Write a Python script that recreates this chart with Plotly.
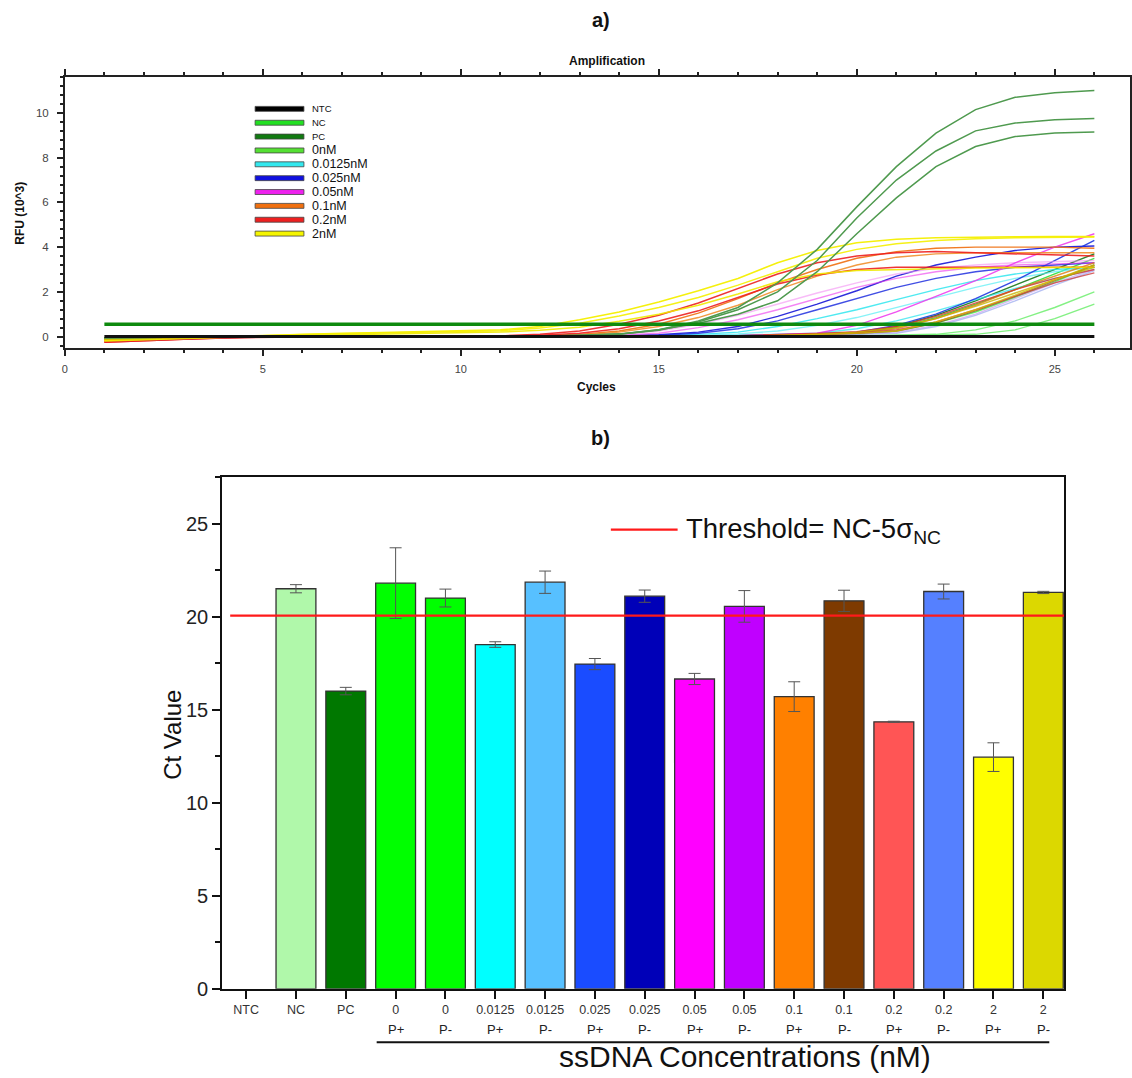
import plotly.graph_objects as go

W, H = 1132, 1078
def px(x): return x / W
def py(y): return 1 - y / H

FONT = "Liberation Sans, Arial, sans-serif"

# ---------------- Panel a) amplification data ----------------
cycles = list(range(1, 27))

rfu_ntc = [0.0, 0.0, 0.0, 0.0, 0.0, 0.0, 0.0, 0.0, 0.0, 0.0, 0.0, 0.0, 0.0, 0.0, 0.0, 0.0, 0.0, 0.0, 0.0, 0.0, 0.0, 0.0, 0.0, 0.0, 0.0, 0.0]
rfu_baseline_line = [0.55, 0.55]
baseline_cycles = [1, 26]

rfu_pc1 = [-0.05,-0.03,-0.01,0,0,0,0,0,0,0,0.01,0.03,0.06,0.12,0.3,0.7,1.3,2.4,3.9,5.8,7.6,9.1,10.15,10.7,10.9,11.0]
rfu_pc2 = [-0.05,-0.03,-0.01,0,0,0,0,0,0,0,0.01,0.03,0.05,0.1,0.28,0.65,1.2,2.0,3.4,5.3,7.0,8.3,9.2,9.55,9.7,9.75]
rfu_pc3 = [-0.05,-0.03,-0.01,0,0,0,0,0,0,0,0.01,0.02,0.05,0.1,0.3,0.6,1.0,1.6,2.9,4.6,6.2,7.6,8.5,8.95,9.1,9.15]

rfu_nc1 = [-0.05,-0.03,-0.01,0,0,0,0,0,0,0,0,0,0,0,0,0,0,0.01,0.02,0.04,0.06,0.1,0.3,0.7,1.3,2.0]
rfu_nc2 = [-0.05,-0.03,-0.01,0,0,0,0,0,0,0,0,0,0,0,0,0,0,0,0.01,0.02,0.04,0.06,0.1,0.3,0.8,1.45]

rfu_0nM_a = [-0.08,-0.05,-0.02,0,0,0,0,0,0,0,0,0,0,0,0,0.01,0.02,0.04,0.08,0.15,0.4,0.85,1.45,2.1,2.8,3.5]
rfu_0nM_b = [-0.08,-0.05,-0.02,0,0,0,0,0,0,0,0,0,0,0,0,0,0.01,0.03,0.06,0.1,0.25,0.6,1.1,1.75,2.45,3.2]
rfu_0nM_c = [-0.05,-0.03,-0.01,0,0,0,0,0,0,0,0,0,0,0,0,0.01,0.02,0.04,0.08,0.15,0.45,0.95,1.6,2.3,3.0,3.7]

rfu_00125_a = [-0.1,-0.06,-0.03,-0.01,0,0,0,0,0,0,0,0,0,0.01,0.04,0.1,0.2,0.45,0.8,1.2,1.65,2.1,2.5,2.8,3.0,3.1]
rfu_00125_b = [-0.1,-0.06,-0.03,-0.01,0,0,0,0,0,0,0,0,0,0.01,0.03,0.06,0.12,0.25,0.5,0.85,1.3,1.75,2.2,2.6,2.9,3.1]
rfu_00125_c = [-0.1,-0.06,-0.03,-0.01,0,0,0,0,0,0,0,0,0,0,0.01,0.03,0.06,0.1,0.15,0.35,0.7,1.15,1.65,2.15,2.6,3.0]

rfu_0025_a = [-0.1,-0.06,-0.03,-0.01,0,0,0,0,0,0,0,0,0.01,0.03,0.08,0.2,0.45,0.9,1.45,2.05,2.7,3.2,3.55,3.85,4.0,4.05]
rfu_0025_b = [-0.1,-0.06,-0.03,-0.01,0,0,0,0,0,0,0,0,0.01,0.02,0.06,0.15,0.35,0.7,1.2,1.7,2.2,2.6,2.9,3.1,3.2,3.3]
rfu_0025_c = [-0.1,-0.06,-0.03,-0.01,0,0,0,0,0,0,0,0,0,0,0.01,0.02,0.04,0.08,0.12,0.2,0.5,1.0,1.7,2.5,3.4,4.3]
rfu_0025_d = [-0.1,-0.06,-0.03,-0.01,0,0,0,0,0,0,0,0,0,0,0,0,0.01,0.03,0.06,0.1,0.15,0.45,0.95,1.6,2.3,2.95]

rfu_005_a = [-0.1,-0.06,-0.03,-0.01,0,0,0,0,0,0,0,0.01,0.03,0.06,0.15,0.4,0.75,1.2,1.7,2.2,2.6,2.9,3.1,3.2,3.25,3.3]
rfu_005_b = [-0.1,-0.06,-0.03,-0.01,0,0,0,0,0,0,0,0.01,0.04,0.1,0.25,0.55,0.95,1.45,1.95,2.4,2.8,3.05,3.2,3.3,3.35,3.4]
rfu_005_c = [-0.1,-0.06,-0.03,-0.01,0,0,0,0,0,0,0,0,0,0,0.01,0.02,0.04,0.08,0.15,0.5,1.1,1.8,2.5,3.3,4.0,4.6]
rfu_005_d = [-0.1,-0.06,-0.03,-0.01,0,0,0,0,0,0,0,0,0,0,0,0.01,0.02,0.04,0.08,0.12,0.2,0.5,1.0,1.7,2.4,3.0]

rfu_01_a = [-0.15,-0.1,-0.05,-0.02,0,0,0,0,0,0,0.01,0.03,0.1,0.25,0.55,1.05,1.7,2.4,3.0,3.5,3.8,3.95,4.0,4.0,4.0,3.95]
rfu_01_b = [-0.15,-0.1,-0.05,-0.02,0,0,0,0,0,0,0.01,0.02,0.06,0.2,0.45,0.85,1.4,2.1,2.7,3.2,3.55,3.7,3.75,3.75,3.75,3.75]
rfu_01_c = [-0.12,-0.08,-0.04,-0.02,0,0,0,0,0,0,0,0,0,0,0,0.01,0.03,0.06,0.1,0.18,0.35,0.8,1.4,2.1,2.7,3.3]
rfu_01_d = [-0.1,-0.06,-0.03,-0.01,0,0,0,0,0,0,0,0,0,0,0,0.01,0.02,0.05,0.1,0.15,0.25,0.6,1.15,1.8,2.5,3.2]

rfu_02_a = [-0.25,-0.18,-0.1,-0.05,-0.02,0,0,0,0,0,0.03,0.1,0.25,0.55,0.95,1.5,2.15,2.8,3.3,3.6,3.75,3.8,3.75,3.7,3.65,3.6]
rfu_02_b = [-0.25,-0.2,-0.12,-0.06,-0.03,-0.01,0,0,0,0,0.02,0.06,0.15,0.35,0.7,1.15,1.75,2.35,2.75,3.0,3.1,3.1,3.1,3.1,3.1,3.1]
rfu_02_c = [-0.22,-0.16,-0.1,-0.05,-0.02,0,0,0,0,0,0,0,0,0,0,0.02,0.04,0.08,0.14,0.22,0.45,0.9,1.5,2.1,2.6,3.0]
rfu_02_d = [-0.2,-0.15,-0.09,-0.05,-0.02,0,0,0,0,0,0,0,0,0,0,0.01,0.02,0.05,0.1,0.16,0.3,0.65,1.2,1.8,2.4,2.85]

rfu_2_a = [-0.15,-0.1,-0.04,0.03,0.08,0.12,0.15,0.18,0.21,0.25,0.3,0.45,0.75,1.1,1.55,2.05,2.6,3.3,3.85,4.2,4.35,4.42,4.45,4.46,4.47,4.48]
rfu_2_b = [-0.18,-0.12,-0.06,0.0,0.05,0.09,0.12,0.15,0.18,0.21,0.26,0.38,0.6,0.92,1.3,1.75,2.3,2.9,3.5,3.9,4.15,4.3,4.38,4.42,4.45,4.45]
rfu_2_c = [-0.2,-0.14,-0.08,-0.02,0.02,0.05,0.08,0.1,0.13,0.16,0.2,0.28,0.42,0.68,1.0,1.4,1.9,2.45,2.8,2.95,3.0,3.05,3.07,3.08,3.1,3.1]
rfu_2_d = [-0.12,-0.08,-0.04,-0.02,0,0,0,0,0,0,0,0,0,0,0,0.01,0.02,0.05,0.1,0.2,0.4,0.8,1.35,1.95,2.55,3.1]
rfu_2_e = [-0.1,-0.06,-0.03,-0.01,0,0,0,0,0,0,0,0,0,0,0,0.01,0.02,0.05,0.1,0.15,0.25,0.65,1.2,1.85,2.55,3.2]

legend_names = ["NTC", "NC", "PC", "0nM", "0.0125nM", "0.025nM", "0.05nM", "0.1nM", "0.2nM", "2nM"]
legend_colors = ["#000000", "#22e022", "#117a11", "#55e033", "#33e8ee", "#1010e0", "#ee22ee", "#f07010", "#ee2020", "#f5f500"]

# ---------------- Panel b) Ct values ----------------
ct_labels = ["NTC", "NC", "PC", "0", "0", "0.0125", "0.0125", "0.025", "0.025",
             "0.05", "0.05", "0.1", "0.1", "0.2", "0.2", "2", "2"]
ct_probe = ["", "", "", "P+", "P-", "P+", "P-", "P+", "P-", "P+", "P-", "P+", "P-", "P+", "P-", "P+", "P-"]
ct_values = [None, 21.5, 16.0, 21.8, 21.0, 18.5, 21.85, 17.45, 21.1, 16.65, 20.55, 15.7, 20.85, 14.35, 21.35, 12.45, 21.3]
ct_errors = [0, 0.22, 0.2, 1.9, 0.48, 0.15, 0.6, 0.3, 0.33, 0.3, 0.85, 0.8, 0.57, 0.03, 0.4, 0.77, 0.06]
ct_colors = ["#ffffff", "#b0f8aa", "#007800", "#00ff00", "#00ff00", "#00ffff", "#57c0ff", "#1a4cff", "#0000b8",
             "#ff00ff", "#c000ff", "#ff8000", "#7e3a00", "#ff5555", "#5580ff", "#ffff00", "#dcd800"]
threshold_value = 20.05
threshold_label = "Threshold= NC-5σ<sub>NC</sub>"

fig = go.Figure()

curve_styles = [
    (rfu_0nM_a, "#33dd33", 1.4, 0.9), (rfu_0nM_b, "#44ee44", 1.4, 0.8), (rfu_0nM_c, "#1a7a1a", 1.4, 0.9),
    (rfu_nc1, "#66ee66", 1.4, 0.8), (rfu_nc2, "#66ee66", 1.4, 0.8),
    (rfu_00125_a, "#22e5ee", 1.4, 0.8), (rfu_00125_b, "#55eef5", 1.4, 0.7), (rfu_00125_c, "#22e5ee", 1.4, 0.7),
    (rfu_0025_a, "#1818d8", 1.4, 0.9), (rfu_0025_b, "#2030e0", 1.4, 0.85), (rfu_0025_c, "#2038e0", 1.4, 0.9),
    (rfu_0025_d, "#9aa8f0", 1.4, 0.7),
    (rfu_005_a, "#ee33ee", 1.4, 0.6), (rfu_005_b, "#f590f5", 1.4, 0.6), (rfu_005_c, "#ee33ee", 1.4, 0.85),
    (rfu_005_d, "#c8a0f0", 1.4, 0.7),
    (rfu_01_a, "#f07010", 1.4, 0.9), (rfu_01_b, "#f08a20", 1.4, 0.85), (rfu_01_c, "#e07a10", 1.4, 0.8),
    (rfu_01_d, "#8a4a1a", 1.4, 0.7),
    (rfu_02_a, "#ee2020", 1.5, 0.9), (rfu_02_b, "#ee2020", 1.5, 0.9), (rfu_02_c, "#e03030", 1.4, 0.8),
    (rfu_02_d, "#d04040", 1.4, 0.8),
    (rfu_2_a, "#f5f000", 1.5, 0.95), (rfu_2_b, "#f5f000", 1.5, 0.9), (rfu_2_c, "#f0ea00", 1.5, 0.9),
    (rfu_2_d, "#c8b400", 1.4, 0.8), (rfu_2_e, "#d0b800", 1.4, 0.8),
    (rfu_pc1, "#4f9a4f", 1.5, 1.0), (rfu_pc2, "#4f9a4f", 1.5, 1.0), (rfu_pc3, "#4f9a4f", 1.5, 1.0),
]
for ys, col, w, op in curve_styles:
    fig.add_trace(go.Scatter(x=cycles, y=ys, mode="lines", line=dict(color=col, width=w),
                             opacity=op, showlegend=False, xaxis="x", yaxis="y", hoverinfo="skip"))
fig.add_trace(go.Scatter(x=cycles, y=rfu_ntc, mode="lines", line=dict(color="#111111", width=3),
                         showlegend=False, xaxis="x", yaxis="y"))
fig.add_trace(go.Scatter(x=baseline_cycles, y=rfu_baseline_line, mode="lines", line=dict(color="#0e8a0e", width=3.5),
                         showlegend=False, xaxis="x", yaxis="y"))

xs = list(range(len(ct_labels)))
fig.add_trace(go.Bar(x=xs, y=ct_values, width=0.8,
                     marker=dict(color=ct_colors, line=dict(color="#333333", width=1.3)),
                     error_y=dict(type="data", array=ct_errors, color="#555555", thickness=1, width=6),
                     showlegend=False, xaxis="x2", yaxis="y2"))
fig.add_trace(go.Scatter(x=[-0.32, 16.47], y=[threshold_value, threshold_value], mode="lines",
                         line=dict(color="#ff1a1a", width=2.2), cliponaxis=False,
                         showlegend=False, xaxis="x2", yaxis="y2"))

shapes = []
annotations = []

def note(x, y, text, size, bold=False, xanchor="center", angle=0, color="#111", xref="paper"):
    annotations.append(dict(x=x, y=py(y), xref=xref, yref="paper", text=f"<b>{text}</b>" if bold else text,
                            showarrow=False, xanchor=xanchor, yanchor="middle", textangle=angle,
                            font=dict(family=FONT, size=size, color=color)))

for i, (name, col) in enumerate(zip(legend_names, legend_colors)):
    yc = 110 + 14 * i
    shapes.append(dict(type="rect", xref="paper", yref="paper", x0=px(253), x1=px(302),
                       y0=py(yc + 2.5), y1=py(yc - 2.5), fillcolor=col, line=dict(color="#444444", width=0.8)))
    note(px(308), yc, name, 9.5 if i < 3 else 12.5, xanchor="left")

shapes.append(dict(type="line", xref="paper", yref="paper", x0=px(610), x1=px(677), y0=py(535), y1=py(535),
                   line=dict(color="#ff1a1a", width=2.2)))
note(px(683), 536, threshold_label, 27.5, xanchor="left")

for i, lab in enumerate(ct_probe):
    if lab:
        note(i, 1040, lab, 13, color="#222", xref="x2")
shapes.append(dict(type="line", xref="paper", yref="paper", x0=px(375), x1=px(1050), y0=py(1053), y1=py(1053),
                   line=dict(color="#111", width=2)))
note(px(745), 1067, "ssDNA Concentrations (nM)", 30)
note(px(170), 742, "Ct Value", 24, angle=-90)

note(px(600), 20, "a)", 20, bold=True)
note(px(606), 62, "Amplification", 12, bold=True)
note(px(600), 443, "b)", 20, bold=True)
note(px(17), 215, "RFU (10^3)", 12, bold=True, angle=-90)
note(px(596), 391, "Cycles", 12, bold=True)

fig.update_layout(
    width=W, height=H, margin=dict(l=0, r=0, t=0, b=0),
    paper_bgcolor="white", plot_bgcolor="white",
    font=dict(family=FONT),
    shapes=shapes, annotations=annotations,
    xaxis=dict(domain=[px(62), px(1131)], range=[0, 26.9], tickvals=[0, 5, 10, 15, 20, 25],
               showline=True, linecolor="#222", linewidth=1.5, mirror="ticks", ticks="outside", ticklen=6,
               tickcolor="#222", tickwidth=1.5, showgrid=False, zeroline=False, ticklabelstandoff=4,
               minor=dict(dtick=1, ticks="outside", ticklen=3, tickcolor="#222"),
               tickfont=dict(family=FONT, size=11, color="#444")),
    yaxis=dict(domain=[py(352), py(78)], range=[-0.53, 11.6], tickvals=[0, 2, 4, 6, 8, 10],
               showline=True, linecolor="#222", linewidth=1.5, mirror=True, ticks="outside", ticklen=6,
               tickcolor="#222", tickwidth=1.5, showgrid=False, zeroline=False, ticklabelstandoff=6,
               minor=dict(dtick=0.4, tick0=0, ticks="outside", ticklen=3, tickcolor="#222"),
               tickfont=dict(family=FONT, size=11.5, color="#444")),
    xaxis2=dict(domain=[px(220), px(1065)], range=[-0.48, 16.42], tickvals=xs, ticktext=ct_labels,
                showline=True, linecolor="#111", linewidth=2, mirror=True, ticks="outside", ticklen=8,
                tickcolor="#111", tickwidth=2, showgrid=False, zeroline=False, anchor="y2",
                tickfont=dict(family=FONT, size=12.5, color="#333")),
    yaxis2=dict(domain=[py(999), py(482)], range=[0, 27.5], tickvals=[0, 5, 10, 15, 20, 25],
                showline=True, linecolor="#111", linewidth=2, mirror=True, ticks="outside", ticklen=8,
                tickcolor="#111", tickwidth=2, showgrid=False, zeroline=False, anchor="x2",
                minor=dict(dtick=2.5, ticks="outside", ticklen=5, tickcolor="#111"),
                tickfont=dict(family=FONT, size=20, color="#222")),
)

fig.write_html("out.html")
